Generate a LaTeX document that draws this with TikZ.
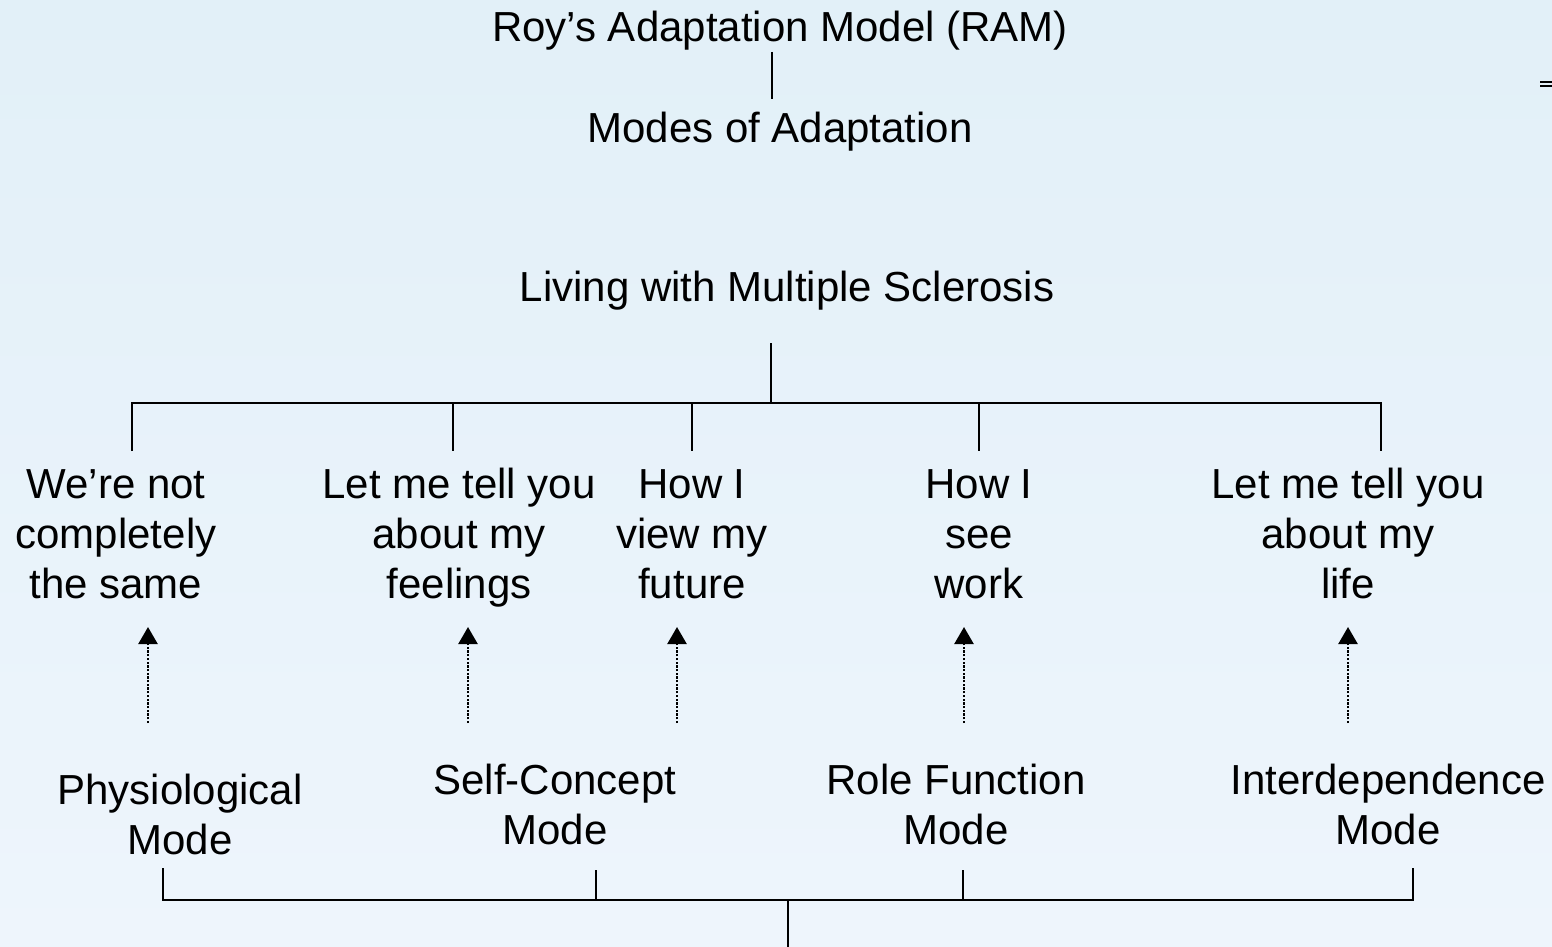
\documentclass[tikz,border=0pt]{standalone}
\usepackage{fontspec}
\setmainfont{Liberation Sans}
\usetikzlibrary{arrows.meta}
\definecolor{bgtop}{HTML}{E2F0F8}
\definecolor{bgbot}{HTML}{EEF5FC}
\begin{document}
\begin{tikzpicture}[x=1pt,y=-1pt,
  lbl/.style={font=\fontsize{42}{50}\selectfont, align=center, inner sep=0pt},
  ln/.style={line width=2pt, black},
  dotarrow/.style={line width=2.4pt, dash pattern=on 2.3pt off 1.4pt,
    -{Triangle[width=19pt,length=17pt]}}]
\shade[top color=bgtop, bottom color=bgbot] (0,0) rectangle (1552,947);
\useasboundingbox (0,0) rectangle (1552,947);
% top
\node[lbl] (roy) at (780,31) {Roy’s Adaptation Model (RAM)};
\node[lbl] (modes) at (780,132) {Modes of Adaptation};
\node[lbl] (ms) at (787,291) {Living with Multiple Sclerosis};
\coordinate (r0) at (771.5,52);
\coordinate (r1) at (771.5,99);
\draw[ln] (r0) -- (r1);
% stray mark top right
\coordinate (eqa) at (1540,81.7);
\coordinate (eqb) at (1540,86.2);
\draw[line width=2pt] (eqa) -- ++(12,0);
\draw[line width=2pt] (eqb) -- ++(12,0);
% themes
\node[lbl] (w1) at (116,534) {We’re not\\completely\\the same};
\node[lbl] (w2) at (459,538) {Let me tell you\\about my\\feelings};
\node[lbl] (w3) at (692,534) {How I\\view my\\future};
\node[lbl] (w4) at (979,534) {How I\\see\\work};
\node[lbl] (w5) at (1348,533) {Let me tell you\\about my\\life};
% tree
\coordinate (s0) at (771,343);
\coordinate (bus) at (771,403);
\coordinate (d1) at (132,451);
\coordinate (d2) at (453,451);
\coordinate (d3) at (692,451);
\coordinate (d4) at (979,451);
\coordinate (d5) at (1381,451);
\draw[ln] (s0) -- (bus);
\draw[ln] (d1) -- (d1 |- bus) -- (d5 |- bus) -- (d5);
\draw[ln] (d2 |- bus) -- (d2);
\draw[ln] (d3 |- bus) -- (d3);
\draw[ln] (d4 |- bus) -- (d4);
% modes
\node[lbl] (m1) at (180,814) {Physiological\\Mode};
\node[lbl] (m2) at (555,804) {Self-Concept\\Mode};
\node[lbl] (m3) at (956,804) {Role Function\\Mode};
\node[lbl] (m4) at (1388,804) {Interdependence\\Mode};
% dotted arrows
\coordinate (a1) at (148,723); \coordinate (t1) at (148,627);
\coordinate (a2) at (468,723); \coordinate (t2) at (468,627);
\coordinate (a3) at (677,723); \coordinate (t3) at (677,627);
\coordinate (a4) at (964,723); \coordinate (t4) at (964,627);
\coordinate (a5) at (1348,723); \coordinate (t5) at (1348,627);
\foreach \i in {1,...,5} \draw[dotarrow] (a\i) -- (t\i);
% bottom bracket
\coordinate (b1) at (163,868);
\coordinate (b2) at (596,870);
\coordinate (b3) at (963,870);
\coordinate (b4) at (1413,868);
\coordinate (bb) at (788,900);
\coordinate (be) at (788,947);
\draw[ln] (b1) -- (b1 |- bb) -- (b4 |- bb) -- (b4);
\draw[ln] (b2) -- (b2 |- bb);
\draw[ln] (b3) -- (b3 |- bb);
\draw[ln] (bb) -- (be);
\end{tikzpicture}
\end{document}
